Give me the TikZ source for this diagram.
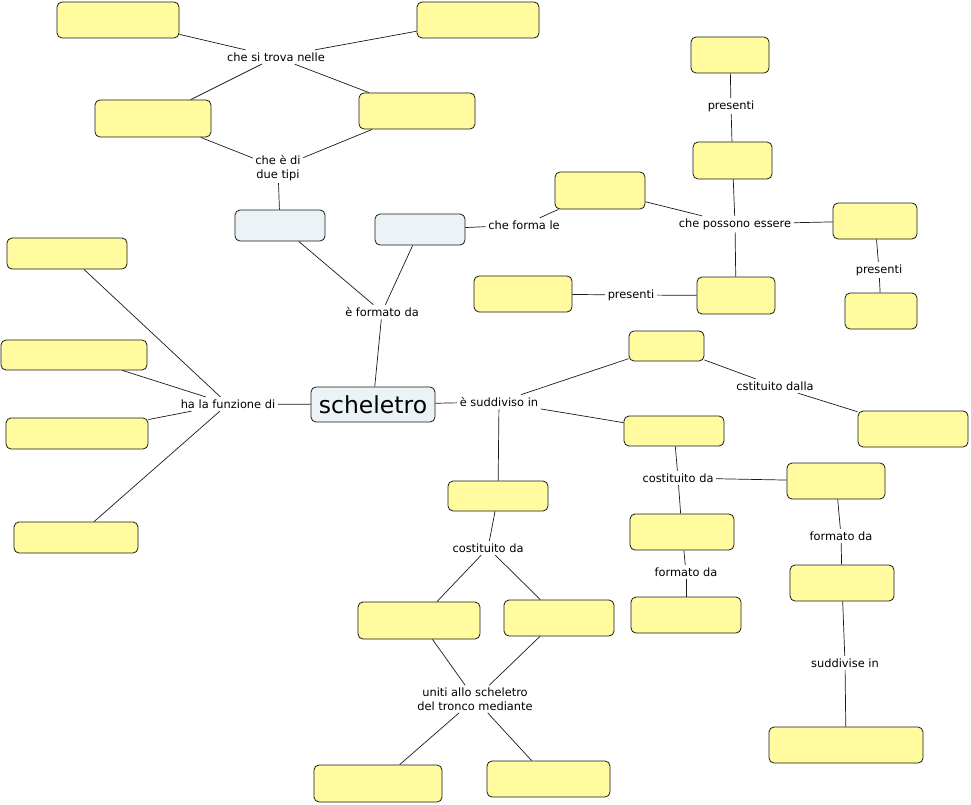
\documentclass[tikz,border=0pt]{standalone}
\usepackage{fontspec}
\setmainfont{DejaVu Sans}
\usepackage{xcolor}
\usepackage{tikz}
\definecolor{CMYellow}{HTML}{FFFB9E}
\definecolor{CMBlue}{HTML}{EBF3F6}
\definecolor{CMLine}{HTML}{1A1A1A}

\begin{document}
\begin{tikzpicture}[x=1pt,y=-1pt,
  concept/.style={draw=CMLine,line width=.8pt,rounded corners=5pt,fill=CMYellow,inner sep=0pt},
  mainconcept/.style={concept,fill=CMBlue},
  linkphrase/.style={inner sep=2.5pt,align=center,font=\fontsize{11.4}{13.5}\selectfont},
  conn/.style={CMLine,line width=.7pt}]
\path[use as bounding box] (0,0) rectangle (971,805);
\fill[white] (0,0) rectangle (971,805);
% concepts
\node[mainconcept,minimum width=124pt,minimum height=35pt,font=\fontsize{23.5}{26}\selectfont] (root) at (373,404.5) {scheletro};
\node[mainconcept,minimum width=90pt,minimum height=31pt] (tipoA) at (280,225.5) {};
\node[mainconcept,minimum width=90pt,minimum height=31pt] (tipoB) at (420,229.5) {};
\node[concept,minimum width=122pt,minimum height=36pt] (topA) at (118,20) {};
\node[concept,minimum width=122pt,minimum height=36pt] (topB) at (478,20) {};
\node[concept,minimum width=116pt,minimum height=37pt] (midA) at (153,118.5) {};
\node[concept,minimum width=116pt,minimum height=36pt] (midB) at (417,111) {};
\node[concept,minimum width=90pt,minimum height=37pt] (forma) at (600,190.5) {};
\node[concept,minimum width=79pt,minimum height=37pt] (essA) at (732.5,160.5) {};
\node[concept,minimum width=84pt,minimum height=36pt] (essB) at (875,221) {};
\node[concept,minimum width=78pt,minimum height=37pt] (essC) at (736,295.5) {};
\node[concept,minimum width=78pt,minimum height=36pt] (presA) at (730,55) {};
\node[concept,minimum width=72pt,minimum height=36pt] (presB) at (881,311) {};
\node[concept,minimum width=98pt,minimum height=36pt] (presC) at (523,294) {};
\node[concept,minimum width=75pt,minimum height=30pt] (partA) at (666.5,346) {};
\node[concept,minimum width=100pt,minimum height=30pt] (partB) at (674,431) {};
\node[concept,minimum width=100pt,minimum height=30pt] (partC) at (498,496) {};
\node[concept,minimum width=110pt,minimum height=36pt] (dallaA) at (913,429) {};
\node[concept,minimum width=98pt,minimum height=36pt] (daB) at (836,481) {};
\node[concept,minimum width=104pt,minimum height=36pt] (daC) at (682,532) {};
\node[concept,minimum width=110pt,minimum height=36pt] (formC) at (686,615) {};
\node[concept,minimum width=104pt,minimum height=36pt] (formB) at (842,583) {};
\node[concept,minimum width=154pt,minimum height=36pt] (suddB) at (846,745) {};
\node[concept,minimum width=122pt,minimum height=37pt] (cosA) at (419,620.5) {};
\node[concept,minimum width=110pt,minimum height=36pt] (cosB) at (559,618) {};
\node[concept,minimum width=128pt,minimum height=37pt] (unitA) at (378,783.5) {};
\node[concept,minimum width=123pt,minimum height=36pt] (unitB) at (548.5,779) {};
\node[concept,minimum width=120pt,minimum height=31pt] (funA) at (67,253.5) {};
\node[concept,minimum width=146pt,minimum height=30pt] (funB) at (74,355) {};
\node[concept,minimum width=142pt,minimum height=31pt] (funC) at (77,433.5) {};
\node[concept,minimum width=124pt,minimum height=31pt] (funD) at (76,537.5) {};
% linking phrases
\node[linkphrase] (trova) at (276,57) {che si trova nelle};
\node[linkphrase] (tipi) at (278,168) {che è di\\due tipi};
\node[linkphrase] (formatoda) at (382,312) {è formato da};
\node[linkphrase] (formale) at (524,225) {che forma le};
\node[linkphrase] (possono) at (735,224) {che possono essere};
\node[linkphrase] (presentiA) at (731,106) {presenti};
\node[linkphrase] (presentiB) at (879,270) {presenti};
\node[linkphrase] (presentiC) at (631,295) {presenti};
\node[linkphrase] (suddiviso) at (499,402) {è suddiviso in};
\node[linkphrase] (cstituito) at (775,386) {cstituito dalla};
\node[linkphrase] (costituitoB) at (678,478) {costituito da};
\node[linkphrase] (formatoC) at (686,572) {formato da};
\node[linkphrase] (formatoB) at (841,536) {formato da};
\node[linkphrase] (suddivise) at (845,663) {suddivise in};
\node[linkphrase] (costituitoC) at (488,548) {costituito da};
\node[linkphrase] (uniti) at (475,699) {uniti allo scheletro\\del tronco mediante};
\node[linkphrase] (funzione) at (228,404) {ha la funzione di};
% connectors
\draw[conn] (topA) -- (trova);
\draw[conn] (trova) -- (topB);
\draw[conn] (trova) -- (midA);
\draw[conn] (trova) -- (midB);
\draw[conn] (midA) -- (tipi);
\draw[conn] (midB) -- (tipi);
\draw[conn] (tipi) -- (tipoA);
\draw[conn] (tipoA) -- (formatoda);
\draw[conn] (tipoB) -- (formatoda);
\draw[conn] (formatoda) -- (root);
\draw[conn] (tipoB) -- (formale);
\draw[conn] (formale) -- (forma);
\draw[conn] (forma) -- (possono);
\draw[conn] (possono) -- (essA);
\draw[conn] (possono) -- (essB);
\draw[conn] (possono) -- (essC);
\draw[conn] (essA) -- (presentiA);
\draw[conn] (presentiA) -- (presA);
\draw[conn] (essB) -- (presentiB);
\draw[conn] (presentiB) -- (presB);
\draw[conn] (essC) -- (presentiC);
\draw[conn] (presentiC) -- (presC);
\draw[conn] (root) -- (suddiviso);
\draw[conn] (suddiviso) -- (partA);
\draw[conn] (suddiviso) -- (partB);
\draw[conn] (suddiviso) -- (partC);
\draw[conn] (partA) -- (cstituito);
\draw[conn] (cstituito) -- (dallaA);
\draw[conn] (partB) -- (costituitoB);
\draw[conn] (costituitoB) -- (daB);
\draw[conn] (costituitoB) -- (daC);
\draw[conn] (daC) -- (formatoC);
\draw[conn] (formatoC) -- (formC);
\draw[conn] (daB) -- (formatoB);
\draw[conn] (formatoB) -- (formB);
\draw[conn] (formB) -- (suddivise);
\draw[conn] (suddivise) -- (suddB);
\draw[conn] (partC) -- (costituitoC);
\draw[conn] (costituitoC) -- (cosA);
\draw[conn] (costituitoC) -- (cosB);
\draw[conn] (cosA) -- (uniti);
\draw[conn] (cosB) -- (uniti);
\draw[conn] (uniti) -- (unitA);
\draw[conn] (uniti) -- (unitB);
\draw[conn] (root) -- (funzione);
\draw[conn] (funzione) -- (funA);
\draw[conn] (funzione) -- (funB);
\draw[conn] (funzione) -- (funC);
\draw[conn] (funzione) -- (funD);
\end{tikzpicture}
\end{document}
